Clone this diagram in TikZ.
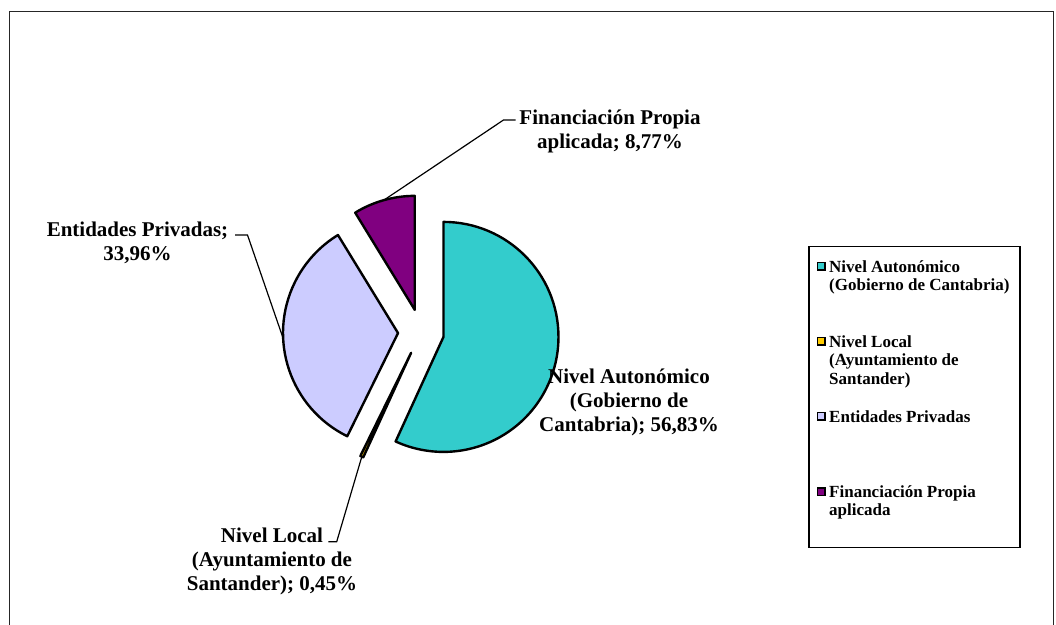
\documentclass[tikz,border=0pt]{standalone}
\usepackage{fontspec}
\setmainfont{Liberation Serif}
\usetikzlibrary{calc}
\definecolor{autoc}{HTML}{33CCCC}
\definecolor{localc}{HTML}{FFCC00}
\definecolor{privc}{HTML}{CCCCFF}
\definecolor{propc}{HTML}{800080}
\begin{document}
\begin{tikzpicture}[x=1pt,y=1pt,
  slice/.style={draw=black, line width=2.4pt, line join=round},
  leader/.style={draw=black, line width=1.2pt},
  lbl/.style={font=\bfseries\fontsize{21}{24}\selectfont, align=center, inner sep=0pt, anchor=north},
  leg/.style={font=\bfseries\fontsize{17}{18.6}\selectfont, align=left, inner sep=0pt, anchor=north west},
  legmark/.style={draw=black, line width=1.4pt, minimum size=7.5pt, inner sep=0pt}]
\useasboundingbox (0,0) rectangle (1056,-624);
% outer frame
\draw[black!85, line width=1.4pt] (9.5,-630) -- (9.5,-11.5) -- (1053.5,-11.5) -- (1053.5,-630);
% pie
\coordinate (C) at (421,-332);
\filldraw[slice, fill=autoc] ($(C)+(-12.3:23)$) -- ++(90:115) arc[start angle=90, end angle=-114.6, radius=115] -- cycle;
\filldraw[slice, fill=localc] ($(C)+(-115.4:23)$) -- ++(-114.6:115) arc[start angle=-114.6, end angle=-116.2, radius=115] -- cycle;
\filldraw[slice, fill=privc] ($(C)+(-177.35:23)$) -- ++(-116.2:115) arc[start angle=-116.2, end angle=-238.5, radius=115] -- cycle;
\filldraw[slice, fill=propc] ($(C)+(105.75:23)$) -- ++(121.5:114) arc[start angle=121.5, end angle=90, radius=114] -- cycle;
% leader coordinates
\coordinate (propMid) at ($(C)+(105.75:137)$);
\coordinate (propKnee) at (503.5,-120);
\coordinate (propEnd) at (515.5,-120);
\coordinate (privMid) at ($(C)+(-177.35:138)$);
\coordinate (privKnee) at (247.5,-235);
\coordinate (privEnd) at (235,-235);
\coordinate (localMid) at ($(C)+(-115.4:138)$);
\coordinate (localKnee) at (336.7,-541.7);
\coordinate (localEnd) at (328.3,-541.7);
\draw[leader] (propMid) -- (propKnee) -- (propEnd);
\draw[leader] (privMid) -- (privKnee) -- (privEnd);
\draw[leader] (localMid) -- (localKnee) -- (localEnd);
% labels
\node[lbl] (propLbl) at (610,-109.3) {Financiación Propia\\aplicada; 8,77\%};
\node[lbl] (privLbl) at (137.5,-221.8) {Entidades Privadas;\\33,96\%};
\node[lbl] (autoLbl) at (629,-368.6) {Nivel Autonómico\\(Gobierno de\\Cantabria); 56,83\%};
\node[lbl] (localLbl) at (272,-527.5) {Nivel Local\\(Ayuntamiento de\\Santander); 0,45\%};
% legend
\node[draw=black, line width=1.2pt, minimum width=211pt, minimum height=301pt, anchor=north west, inner sep=0pt] (legBox) at (808.3,-245.7) {};
\node[legmark, fill=autoc] (m1) at (821.2,-266.2) {};
\node[legmark, fill=localc] (m2) at (821.2,-341.2) {};
\node[legmark, fill=privc] (m3) at (821.2,-416.2) {};
\node[legmark, fill=propc] (m4) at (821.2,-491.8) {};
\node[leg] (l1) at (829,-260) {Nivel Autonómico\\(Gobierno de Cantabria)};
\node[leg] (l2) at (829,-335) {Nivel Local\\(Ayuntamiento de\\Santander)};
\node[leg] (l3) at (829,-410) {Entidades Privadas};
\node[leg] (l4) at (829,-485) {Financiación Propia\\aplicada};
\end{tikzpicture}
\end{document}
